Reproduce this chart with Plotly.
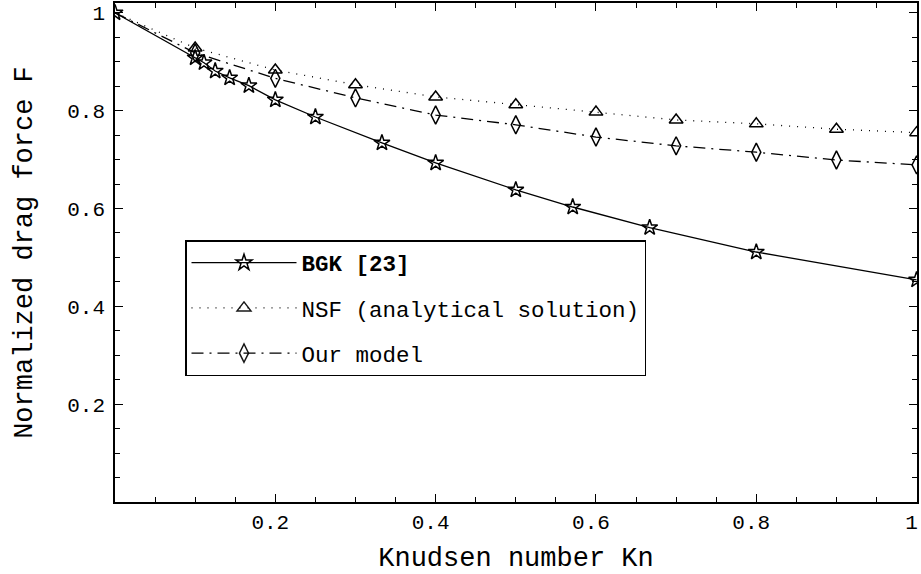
import plotly.graph_objects as go

# BGK [23]
kn_bgk = [0.0, 0.1, 0.111, 0.125, 0.143, 0.167, 0.2, 0.25, 0.333, 0.4, 0.5, 0.571, 0.667, 0.8, 1.0]
f_bgk = [1.0, 0.908, 0.898, 0.881, 0.867, 0.851, 0.822, 0.787, 0.734, 0.693, 0.638, 0.603, 0.561, 0.511, 0.454]

# NSF (analytical solution)
kn_nsf = [0.0, 0.1, 0.2, 0.3, 0.4, 0.5, 0.6, 0.7, 0.8, 0.9, 1.0]
f_nsf = [1.0, 0.928, 0.883, 0.853, 0.828, 0.812, 0.797, 0.781, 0.773, 0.762, 0.755]

# Our model
kn_our = [0.0, 0.1, 0.2, 0.3, 0.4, 0.5, 0.6, 0.7, 0.8, 0.9, 1.0]
f_our = [1.0, 0.918, 0.866, 0.826, 0.791, 0.771, 0.746, 0.728, 0.715, 0.699, 0.689]

x_ticks = [0.2, 0.4, 0.6, 0.8, 1.0]
x_ticklabels = ["0.2", "0.4", "0.6", "0.8", "1"]
y_ticks = [0.2, 0.4, 0.6, 0.8, 1.0]
y_ticklabels = ["0.2", "0.4", "0.6", "0.8", "1"]

FONT = "Liberation Mono, Courier New, monospace"

fig = go.Figure()
fig.add_trace(go.Scatter(
    x=kn_bgk, y=f_bgk, mode="lines+markers", name="<b>BGK [23]</b>",
    legendgroup="a", cliponaxis=True,
    line=dict(color="black", width=1.3),
    marker=dict(symbol="star-open", size=12, color="black", line=dict(width=1.5)),
))
fig.add_trace(go.Scatter(
    x=kn_nsf, y=f_nsf, mode="lines+markers", name="NSF (analytical solution)",
    legendgroup="b", cliponaxis=True,
    line=dict(color="black", width=1.3, dash="1px,7px"),
    marker=dict(symbol="triangle-up-open", size=12, color="black", line=dict(width=1.5),
                opacity=[0] + [1] * (len(kn_nsf) - 1)),
))
fig.add_trace(go.Scatter(
    x=kn_our, y=f_our, mode="lines+markers", name="Our model",
    legendgroup="c", cliponaxis=True,
    line=dict(color="black", width=1.3, dash="12px,6px,2px,6px"),
    marker=dict(symbol="diamond-tall-open", size=13, color="black", line=dict(width=1.5),
                opacity=[0] + [1] * (len(kn_our) - 1)),
))

axis_common = dict(
    showline=True, linecolor="black", linewidth=1.5, mirror="ticks",
    ticks="inside", ticklen=8, tickwidth=1.2, tickcolor="black",
    showgrid=False, zeroline=False, automargin=False, ticklabeloverflow="allow",
    tickfont=dict(family=FONT, size=21, color="black"),
    minor=dict(ticks="inside", ticklen=5, tickwidth=1, tickcolor="black", dtick=0.05, showgrid=False),
)

fig.update_xaxes(
    range=[0, 1.0005], tickmode="array", tickvals=x_ticks, ticktext=x_ticklabels,
    ticklabelshift=-5,
    title=dict(text="Knudsen number Kn", font=dict(family=FONT, size=27, color="black"), standoff=14),
    **axis_common,
)
fig.update_yaxes(
    range=[0, 1.02], tickmode="array", tickvals=y_ticks, ticktext=y_ticklabels,
    ticklabelstandoff=4,
    title=dict(text="Normalized drag force F", font=dict(family=FONT, size=27, color="black"), standoff=27),
    **axis_common,
)

fig.update_layout(
    width=921, height=574,
    margin=dict(l=115, r=4, t=3, b=72),
    plot_bgcolor="white", paper_bgcolor="white",
    showlegend=True,
    legend=dict(
        x=(185 - 115) / 802, y=(502 - 240) / 499, xanchor="left", yanchor="top",
        bgcolor="white", bordercolor="black", borderwidth=1.5,
        font=dict(family=FONT, size=22.5, color="black"),
        itemwidth=105, tracegroupgap=13, traceorder="grouped",
    ),
)

fig.write_html(
    "out.html",
    config={"displayModeBar": False},
    post_script="document.body.style.margin='0';document.body.style.padding='0';",
)
